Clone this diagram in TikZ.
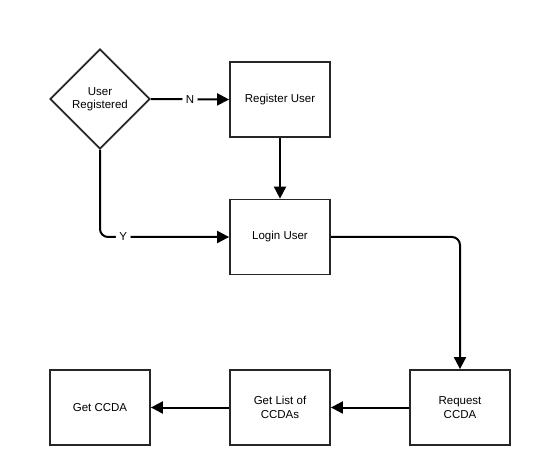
\documentclass[tikz,border=0pt]{standalone}
\usepackage{fontspec}
\setmainfont{Liberation Sans}
\usetikzlibrary{shapes.geometric,arrows.meta}
\begin{document}
\begin{tikzpicture}[x=1pt,y=-1pt,
  font=\fontsize{11.5}{13.5}\selectfont,
  box/.style={draw=black!85, line width=1.8pt, minimum width=100pt, minimum height=75pt, inner sep=0pt, align=center, fill=white},
  decision/.style={draw=black!85, line width=1.8pt, diamond, minimum width=100pt, minimum height=100pt, inner sep=0pt, align=center, fill=white},
  conn/.style={draw=black, line width=2pt, -{Triangle[length=12pt,width=12pt]}, rounded corners=8pt},
  lbl/.style={fill=white, inner sep=3.5pt}]
\useasboundingbox (0,0) rectangle (536,465);
\node[decision] (dec) at (100,99) {User\\Registered};
\node[box] (reg) at (280,99.5) {Register User};
\node[box] (login) at (280,237) {Login User};
\node[box] (req) at (460,407.5) {Request\\CCDA};
\node[box] (list) at (280,407.5) {Get List of\\CCDAs};
\node[box] (get) at (100,407.5) {Get CCDA};
\draw[conn] (dec.east) -- node[lbl, pos=0.5] {N} (reg.west);
\coordinate (c1) at (100,237);
\draw[conn] (dec.south) -- (c1) -- node[lbl, pos=0.18] {Y} (login.west);
\draw[conn] (reg.south) -- (login.north);
\coordinate (c2) at (460,237);
\draw[conn] (login.east) -- (c2) -- (req.north);
\draw[conn] (req.west) -- (list.east);
\draw[conn] (list.west) -- (get.east);
\end{tikzpicture}
\end{document}
